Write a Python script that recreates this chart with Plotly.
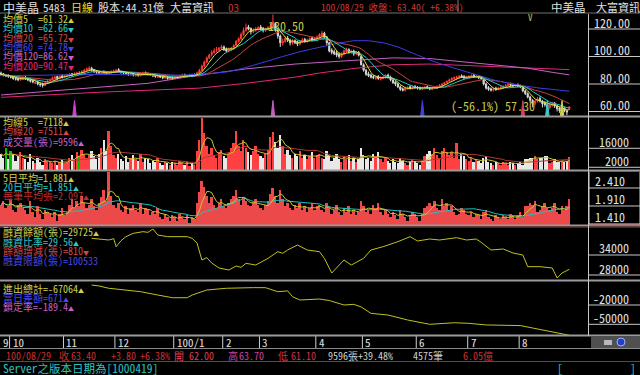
import plotly.graph_objects as go
import pandas as pd

# ---------------- data ----------------
opens = [
    88, 87.5, 86, 86.5, 85, 85.5, 84, 84, 83, 83.5,
    85, 84.5, 83, 82.5, 80.5, 81.5, 80, 80, 79, 80.5,
    82, 83, 84, 85.5, 84, 86, 85, 86, 86, 87.5,
    86.5, 87, 88.5, 88, 89, 90, 90.5, 91.5, 90.5, 89.5,
    88.5, 87.5, 89, 88, 87.5, 88, 89, 89, 90.5, 89,
    89, 88.5, 87.5, 86.5, 87.5, 86, 87.5, 86, 87, 88.5,
    87.5, 87.5, 86.5, 86.5, 85, 86, 85, 84.5, 85, 83.5,
    84.5, 84, 84.5, 85.5, 86, 86.5, 85.5, 86, 86.5, 86,
    87, 88, 90, 93, 96, 99, 101.5, 103, 104.5, 105,
    106, 107, 105.5, 104, 105, 106, 108, 111, 113, 116,
    119, 121.5, 120.5, 118, 119, 120, 121.5, 120.5, 119, 120,
    121, 122, 124, 119, 115, 110, 111, 113.5, 112, 110,
    111.5, 110.5, 109, 111, 112.5, 111, 112, 113.5, 112, 113,
    114, 115, 117, 114, 110, 104.5, 103.5, 102.5, 101.5, 100,
    102, 103.5, 105, 103, 104, 102, 103, 100, 94, 90,
    87.5, 86.5, 85.5, 84, 85.5, 83.5, 84, 85, 86.5, 85,
    83, 81.5, 80, 78, 76.5, 75.5, 76.5, 78, 77, 78.5,
    77.5, 77.5, 76, 77, 78, 77, 76, 77, 77, 78,
    79, 80, 81, 82, 83, 84, 84, 85, 86, 85.5,
    84.5, 85, 85, 86.5, 85, 85.5, 84.5, 83, 80, 77.5,
    76.5, 75.5, 77, 76, 77, 77, 78, 79, 80, 79.5,
    78.5, 79.5, 79, 77.5, 75, 73, 70.5, 68, 66, 67.5,
    69.5, 67.5, 66, 65, 63, 64.5, 66, 64, 62.5, 60.5,
    62.5, 60.5, 62.0,
]
highs = [
    89, 88, 87, 87, 86, 86, 85, 84.5, 85, 85.5,
    86, 85, 84, 83, 82, 82, 81, 81, 81.5, 83,
    84, 85.5, 86, 86, 86.5, 87, 87, 87.5, 88, 88,
    88.5, 89, 89.5, 90, 91, 92, 93, 92.5, 91, 90,
    89.5, 89.5, 90, 89, 89.5, 90, 90.5, 91, 91.5, 90,
    89.5, 89, 88.5, 88, 88.5, 87.5, 88, 87.5, 89, 89,
    88.5, 88, 87.5, 87, 86.5, 86.5, 86, 85.5, 86, 85,
    85.5, 85.5, 86.5, 86.5, 87.5, 87.5, 87, 87.5, 87.5, 88,
    89, 91, 94, 97, 100, 102, 104.5, 106, 107, 107,
    108.5, 108, 106.5, 106.5, 107, 109, 112, 114, 117.5, 121,
    124, 123, 121, 120.5, 121.5, 122, 123, 121.5, 121, 122,
    124, 130.5, 125, 120, 116, 113, 114.5, 115, 113, 112.5,
    112.5, 111.5, 112, 113.5, 113.5, 113, 114, 114.5, 114, 115.5,
    117, 118.5, 118, 115, 110.5, 106, 105, 104, 103, 103,
    105, 106.5, 106, 105, 105, 104, 104, 101, 95, 91,
    89, 87.5, 86.5, 86, 86.5, 85.5, 86, 87, 87.5, 86,
    83.5, 82, 81, 79, 77.5, 78, 78.5, 79, 79, 79,
    78.5, 78, 78, 78.5, 79, 78, 78, 78.5, 79, 80,
    80.5, 81.5, 82.5, 84, 85, 85.5, 86, 86.5, 87, 86.5,
    86, 86.5, 87, 87.5, 86.5, 86.5, 85.5, 84, 81, 78.5,
    77.5, 77.5, 78, 78, 78.5, 79, 80, 80.5, 81, 80,
    80, 80.5, 79.5, 78, 76, 74, 71.5, 69, 68.5, 70.5,
    71, 68.5, 67.5, 66.5, 66, 67, 67, 65, 63.5, 63.5,
    63, 61.5, 63.7,
]
lows = [
    86, 85.5, 85, 84.5, 84, 83, 82.5, 82, 82.5, 83,
    83, 82, 81, 80.5, 80, 79, 78, 77.5, 78.5, 80,
    81, 82.5, 83.5, 83, 83.5, 84, 84.5, 85, 85.5, 85.5,
    86, 86.5, 87.5, 87, 88, 89, 90, 89, 88, 87.5,
    87, 87, 87.5, 86.5, 87, 87.5, 88, 88.5, 88.5, 87.5,
    87, 87, 86, 86, 85.5, 85.5, 85.5, 85.5, 86.5, 87,
    86, 86, 85, 84.5, 84.5, 84.5, 83.5, 83.5, 83, 83,
    83, 83.5, 84, 85, 85, 85, 85, 85.5, 85, 85.5,
    86.5, 87.5, 89.5, 92, 95, 98, 100, 102, 103, 104,
    105, 104, 103, 103, 104, 105, 107.5, 110, 112, 115,
    118, 119, 116, 117, 118, 119, 119, 117.5, 118, 119,
    120, 121, 118, 113, 107, 108, 110, 110.5, 108, 108.5,
    109, 107.5, 108, 110, 110, 110, 111, 111, 111, 112,
    113, 114, 113, 108, 103, 101.5, 101, 99.5, 98.5, 99,
    101, 102.5, 102, 102, 100.5, 101, 100, 93.5, 89, 86,
    85, 84, 83.5, 83, 83, 82.5, 83.5, 84, 84, 82,
    80, 78.5, 77, 75, 74.5, 74.5, 76, 76, 76, 76.5,
    76, 75.5, 75.5, 76, 76.5, 75.5, 75.5, 76.5, 76.5, 77.5,
    78, 79.5, 80.5, 81.5, 82.5, 83, 83.5, 84, 84.5, 83.5,
    83.5, 84, 84.5, 84.5, 84.5, 83.5, 83, 79, 76, 75,
    74.5, 74.5, 75, 75.5, 76, 76.5, 77.5, 78.5, 78, 77.5,
    77.5, 77.5, 77, 74, 72, 69.5, 66, 63, 64.5, 66.5,
    66.5, 63, 63.5, 62, 61.5, 63.5, 62.5, 60, 59, 59.5,
    59.5, 57.3, 61.1,
]
closes = [
    87, 86.5, 86, 85.5, 85, 84, 83.5, 83, 84, 84.5,
    84, 83, 82, 81.5, 81, 80, 79.5, 79, 80.5, 82,
    83, 84.5, 85, 84, 85.5, 85, 86, 86.5, 87, 86.5,
    87.5, 88, 88.5, 89, 90, 91, 91.5, 90, 89, 88.5,
    88, 88.5, 88, 87.5, 88.5, 89, 89.5, 90, 89, 88.5,
    88, 87.5, 87, 87.5, 86.5, 87, 86, 87, 88, 87.5,
    87, 86.5, 86, 85.5, 86, 85, 84.5, 85, 84, 84.5,
    84, 85, 85.5, 86, 86.5, 85.5, 86, 86.5, 86, 87,
    88, 90, 93, 96, 99, 101, 103, 104, 105, 106,
    107, 105, 104, 105, 106, 108, 111, 113, 116, 119,
    121, 120, 118, 119, 120, 121, 120, 119, 120, 121,
    122, 125, 119, 115, 110, 111, 113, 112, 110, 111,
    110, 109, 111, 112, 111, 112, 113, 112, 113, 114,
    116, 117, 114, 110, 104, 103, 102, 101, 100, 102,
    104, 105, 103, 104, 102, 103, 101, 94, 90, 87,
    86, 85, 84.5, 85, 84, 84.5, 85, 86, 85, 83,
    81, 80, 78, 76, 75.5, 77, 77.5, 77, 78, 77.5,
    77, 76.5, 77, 77.5, 77, 76.5, 77, 77.5, 78, 79,
    80, 81, 82, 83, 84, 84.5, 85, 85.5, 85, 84.5,
    85, 85.5, 86, 85, 85.5, 84.5, 84, 80, 77, 76,
    75.5, 76.5, 76, 77, 77.5, 78, 79, 79.5, 79, 78.5,
    79, 78.5, 78, 75, 73, 70.5, 68, 66.5, 67.5, 69,
    67.5, 65.5, 65, 63.5, 65, 65.5, 64, 62, 60.5, 62.5,
    60.6, 59.6, 63.4,
]
volume_k = [
    12, 9, 16, 8, 14, 11, 7, 10, 13, 9,
    8, 6, 12, 7, 5, 9, 6, 4, 8, 7,
    6, 5, 7, 4, 6, 8, 5, 6, 9, 11,
    8, 13, 10, 15, 12, 9, 11, 14, 10, 8,
    12, 16, 22, 14, 29, 18, 11, 9, 12, 8,
    7, 10, 6, 9, 11, 8, 7, 12, 6, 9,
    8, 5, 7, 6, 9, 5, 4, 6, 5, 4,
    6, 5, 4, 7, 5, 4, 6, 3, 5, 4,
    14, 22, 38, 27, 18, 12, 16, 11, 9, 13,
    15, 10, 9, 12, 16, 20, 29, 18, 14, 22,
    16, 13, 11, 14, 18, 12, 10, 9, 12, 15,
    24, 28, 21, 16, 26, 18, 12, 15, 11, 9,
    12, 10, 14, 9, 11, 8, 10, 13, 9, 11,
    12, 9, 8, 14, 10, 7, 9, 12, 8, 6,
    10, 8, 11, 7, 9, 6, 8, 16, 11, 8,
    9, 7, 12, 10, 13, 8, 6, 9, 7, 5,
    8, 6, 5, 9, 7, 5, 4, 6, 8, 7,
    5, 4, 7, 10, 12, 14, 12, 16, 11, 9,
    14, 16, 13, 11, 13, 9, 20, 8, 12, 10,
    8, 7, 9, 6, 8, 7, 5, 9, 10, 6,
    5, 4, 6, 5, 4, 6, 5, 4, 6, 5,
    4, 5, 6, 4, 8, 8, 9, 9, 10, 8,
    9, 9, 10, 10, 5, 6, 8, 6, 6, 7,
    6, 6.8, 9.596,
]
avg_lot = [
    1.95, 2.05, 1.85, 1.9, 2.1, 1.8, 1.75, 1.95, 2.0, 1.85,
    1.8, 1.7, 2.05, 1.75, 1.6, 1.9, 1.7, 1.55, 1.8, 1.75,
    1.7, 1.6, 1.75, 1.5, 1.7, 1.85, 1.65, 1.75, 1.95, 2.1,
    1.85, 2.05, 1.9, 2.2, 2.0, 1.85, 1.95, 2.1, 1.9, 1.8,
    2.0, 2.15, 2.35, 2.05, 2.85, 2.2, 1.95, 1.85, 2.0, 1.8,
    1.75, 1.9, 1.7, 1.85, 1.95, 1.8, 1.75, 2.0, 1.7, 1.85,
    1.8, 1.65, 1.75, 1.7, 1.85, 1.6, 1.55, 1.7, 1.6, 1.5,
    1.65, 1.6, 1.5, 1.7, 1.6, 1.55, 1.65, 1.45, 1.6, 1.55,
    2.0, 2.3, 2.6, 2.45, 2.2, 2.0, 2.15, 1.95, 1.85, 2.0,
    2.1, 1.9, 1.85, 2.0, 2.1, 2.2, 2.35, 2.1, 1.95, 2.15,
    2.05, 1.95, 1.9, 2.0, 2.1, 1.95, 1.85, 1.8, 1.95, 2.05,
    2.25, 2.4, 2.2, 2.0, 2.35, 2.1, 1.9, 2.0, 1.85, 1.8,
    1.95, 1.85, 2.0, 1.8, 1.9, 1.75, 1.85, 2.0, 1.8, 1.9,
    1.95, 1.8, 1.75, 2.0, 1.85, 1.7, 1.8, 1.95, 1.75, 1.65,
    1.85, 1.75, 1.9, 1.7, 1.8, 1.65, 1.75, 2.05, 1.9, 1.75,
    1.8, 1.7, 1.95, 1.85, 2.0, 1.75, 1.65, 1.8, 1.7, 1.6,
    1.75, 1.65, 1.55, 1.8, 1.7, 1.6, 1.5, 1.65, 1.75, 1.7,
    1.6, 1.5, 1.7, 1.85, 1.9, 2.0, 1.9, 2.05, 1.85, 1.8,
    2.1, 1.9, 2.0, 1.8, 1.9, 1.75, 1.65, 1.7, 1.85, 1.8,
    1.7, 1.65, 1.75, 1.6, 1.7, 1.65, 1.55, 1.75, 1.8, 1.6,
    1.55, 1.5, 1.65, 1.6, 1.55, 1.65, 1.6, 1.55, 1.7, 1.6,
    1.55, 1.65, 1.75, 1.6, 1.9, 1.9, 2.0, 1.95, 2.05, 1.75,
    1.8, 1.9, 2.0, 1.85, 1.8, 1.85, 2.0, 1.75, 1.7, 1.9,
    1.8, 1.9, 2.097,
]
ma60_days = [0, 20, 40, 60, 75, 85, 93, 100, 107, 115, 122, 130, 137, 144,
             150, 156, 162, 170, 178, 186, 194, 202, 210, 220, 232]
ma60_vals = [86, 86.5, 87, 86.5, 86.5, 87.5, 89, 92, 96, 100, 103.5, 107, 109.5,
             111.5, 111.5, 110, 107, 101, 95.5, 91, 86.5, 82.5, 79.5, 77, 74.78]
ma120_days = [0, 20, 40, 60, 79, 100, 120, 140, 160, 175, 190, 205, 215, 225, 232]
ma120_vals = [72, 75, 77.5, 80.5, 86, 91, 94.5, 97, 99, 98.5, 96, 93.5, 91.5, 88.5, 86.62]
ma200_days = [0, 40, 81, 100, 120, 130, 145, 160, 175, 190, 210, 232]
ma200_vals = [70.3, 74, 77, 80.5, 85, 88, 91.5, 94, 94.5, 93.5, 92, 90.47]
margin_days = [37, 40, 44, 46, 47, 49, 51, 54, 58, 60, 62, 64, 68, 76, 78, 80, 81,
               82, 84, 86, 89, 93, 96, 98, 100, 104, 109, 113, 115, 117, 121, 125,
               130, 132, 135, 138, 140, 143, 148, 151, 156, 162, 167, 170, 175,
               179, 186, 190, 194, 196, 200, 205, 209, 213, 215, 220, 225, 227,
               229, 232]
margin_vals = [39000, 38800, 38500, 38900, 36500, 38300, 39500, 40500, 41000,
               40800, 41800, 40000, 39500, 39500, 39000, 37600, 35000, 32500,
               33200, 31600, 30100, 29500, 30700, 30300, 31500, 31000, 33000,
               35000, 34500, 35500, 37000, 35500, 35000, 33000, 28600, 31100,
               32500, 31000, 33000, 35500, 36500, 38000, 39500, 38200, 38800,
               38500, 39200, 38500, 38800, 37800, 35500, 35800, 34600, 34000,
               30500, 30500, 30100, 27100, 28600, 29725]
net_days = [37, 40, 44, 50, 57, 64, 70, 76, 78, 84, 92, 103, 108, 113, 117, 119,
            122, 130, 134, 140, 144, 147, 151, 158, 166, 175, 185, 191, 198, 212,
            219, 225, 232]
net_vals = [11000, 9600, 6000, 3300, 700, -4500, -8700, -8700, -4500, 3300, 6000,
            7000, 6900, 700, 2000, -7100, -12200, -10700, -13000, -20000, -19000,
            -23000, -33000, -35600, -43300, -50000, -47600, -48500, -51000,
            -52000, -57300, -62400, -67064]
month_days = [4, 26, 47, 71, 91, 106, 129, 148, 170, 191, 212]
month_labels = ["10", "11", "12", "100/1", "2", "3", "4", "5", "6", "7", "8"]
event_days = [30, 111, 172, 213, 223, 229]
price_ticks = [120, 100, 80, 60]
vol_ticks = [16000, 2000]
lot_ticks = [2.41, 1.91, 1.41]
margin_ticks = [34000, 28000]
net_ticks = [-20000, -50000]

# ---------------- derived ----------------
days = list(range(len(closes)))
cs = pd.Series(closes)
ma5 = cs.rolling(5, min_periods=1).mean()
ma10 = cs.rolling(10, min_periods=1).mean()
ma20 = cs.rolling(20, min_periods=1).mean()
volume = [v * 1000 for v in volume_k]
vs = pd.Series(volume)
vma5 = vs.rolling(5, min_periods=1).mean()
vma20 = vs.rolling(20, min_periods=1).mean()
ls = pd.Series(avg_lot)
lma5 = ls.rolling(5, min_periods=1).mean()
lma20 = ls.rolling(20, min_periods=1).mean()

W, H = 640, 375
FONT = "Noto Sans Mono CJK TC, Noto Sans CJK TC, monospace"
YEL, CYN, RED, BLU, VIO, CRM = '#d0d050', '#30c8c8', '#d04848', '#4848e8', '#c860c8', '#e02878'
UP = '<span style="font-size:6px">▲</span>'
DN = '<span style="font-size:6px">▼</span>'
NB = '\u00a0'


def pdom(top, bottom):
    return [1 - bottom / H, 1 - top / H]


fig = go.Figure()
fig.add_trace(go.Candlestick(
    x=days, open=opens, high=highs, low=lows, close=closes,
    increasing=dict(line=dict(color='#ff3c3c', width=1), fillcolor='#ff3c3c'),
    decreasing=dict(line=dict(color='#d8d8d8', width=1), fillcolor='#d8d8d8'),
    whiskerwidth=0, xaxis='x', yaxis='y', hoverinfo='skip', showlegend=False))
for xs, ys, col in [(days, ma20, '#c84040'), (ma200_days, ma200_vals, CRM),
                    (ma120_days, ma120_vals, VIO), (ma60_days, ma60_vals, '#3c3ce0'),
                    (days, ma10, '#20c8c8'), (days, ma5, '#e0e030')]:
    fig.add_trace(go.Scatter(x=xs, y=ys, mode='lines', line=dict(color=col, width=1),
                             xaxis='x', yaxis='y', hoverinfo='skip', showlegend=False))

# event spikes at bottom of price panel
ev_cols = ['#d040d0', '#c060c0', '#4040e0', '#d04060', '#40c8c8', '#d0d050']
pbot = 56.73
for d, col in zip(event_days, ev_cols):
    fig.add_trace(go.Scatter(x=[d - 0.7, d, d + 0.7, d - 0.7], y=[pbot, 68, pbot, pbot],
                             mode='lines', fill='toself', fillcolor=col,
                             line=dict(color=col, width=1), xaxis='x', yaxis='y',
                             hoverinfo='skip', showlegend=False))

bar_cols = ['#ff4040' if c > o else ('#e8e8e8' if c < o else '#00c000')
            for o, c in zip(opens, closes)]
fig.add_trace(go.Bar(x=days, y=volume, width=0.7, marker=dict(color=bar_cols, line=dict(width=0)),
                     xaxis='x', yaxis='y2', hoverinfo='skip', showlegend=False))
fig.add_trace(go.Scatter(x=days, y=vma20, mode='lines', line=dict(color='#b03838', width=1),
                         xaxis='x', yaxis='y2', hoverinfo='skip', showlegend=False))
fig.add_trace(go.Scatter(x=days, y=vma5, mode='lines', line=dict(color='#c8c830', width=1),
                         xaxis='x', yaxis='y2', hoverinfo='skip', showlegend=False))

fig.add_trace(go.Bar(x=days, y=avg_lot, width=0.8, base=0,
                     marker=dict(color='#ec4a4a', line=dict(width=0)),
                     xaxis='x', yaxis='y3', hoverinfo='skip', showlegend=False))
fig.add_trace(go.Scatter(x=days, y=lma20, mode='lines', line=dict(color='#20c0c0', width=1),
                         xaxis='x', yaxis='y3', hoverinfo='skip', showlegend=False))
fig.add_trace(go.Scatter(x=days, y=lma5, mode='lines', line=dict(color='#c8c830', width=1),
                         xaxis='x', yaxis='y3', hoverinfo='skip', showlegend=False))

fig.add_trace(go.Scatter(x=margin_days, y=margin_vals, mode='lines',
                         line=dict(color='#c0c020', width=1),
                         xaxis='x', yaxis='y4', hoverinfo='skip', showlegend=False))
fig.add_trace(go.Scatter(x=net_days, y=net_vals, mode='lines',
                         line=dict(color='#c0c020', width=1),
                         xaxis='x', yaxis='y5', hoverinfo='skip', showlegend=False))

# month separators
mx, my = [], []
for d in month_days:
    mx += [d - 0.5, d - 0.5, None]
    my += [0, 1, None]
fig.add_trace(go.Scatter(x=mx, y=my, mode='lines', line=dict(color='#d0d0d0', width=1),
                         xaxis='x', yaxis='y6', hoverinfo='skip', showlegend=False))

ann = []


def T(x, y, s, color, size=10, xanchor='left'):
    ann.append(dict(x=x / W, y=1 - y / H, xref='paper', yref='paper', text=s, showarrow=False,
                    xanchor=xanchor, yanchor='middle', borderpad=0,
                    font=dict(family=FONT, size=size, color=color)))


# header
T(2, 7, "中美晶", '#e0e0e0', 12)
T(42, 7, "5483", '#e0e0e0', 11)
T(70, 7, "日線", '#e8e800', 11)
T(97, 7, "股本:44.31億", '#e0e0e0', 11)
T(169, 7, "大富資訊", '#e0e0e0', 11)
T(227, 7, "03", '#d03030', 11)
T(320, 7, "100/08/29 收盤:" + NB + "63.40(" + NB + "+6.38%)", '#c83c3c', 9.5)
T(550, 7, "中美晶", '#e0e0e0', 11.5)
T(595, 7, "大富資訊", '#e0e0e0', 11)

# price legend
T(2, 19, "均價5" + NB * 2 + "=61.32" + UP, YEL)
T(2, 28, "均價10" + NB + "=62.66" + DN, CYN)
T(2, 37, "均價20" + NB + "=65.72" + DN, RED)
T(2, 46, "均價60" + NB + "=74.78" + DN, BLU)
T(2, 56, "均價120=86.62" + DN, VIO)
T(2, 65, "均價200=90.47" + DN, CRM)
lo, hi = min(lows), max(highs)
T(450, 106, f"({(lo / hi - 1) * 100:.1f}%) {lo:.2f}", '#c8c850', 12)
T(530, 17, "V", '#c8c850', 9, 'center')
ann.append(dict(x=highs.index(hi), y=hi, xref='x', yref='y', text=f"{hi:.2f}", showarrow=False,
                xanchor='left', yanchor='top', xshift=-7,
                font=dict(family=FONT, size=12, color='#c8c850')))

# volume legend
T(2, 122, "均線5" + NB * 2 + "=7118" + UP, YEL)
T(2, 131, "均線20" + NB + "=7511" + UP, RED)
T(2, 141, "成交量(張)=9596" + UP, VIO)
# avg lot legend
T(2, 177, "5日平均=1.881" + UP, YEL)
T(2, 186, "20日平均=1.851" + UP, CYN)
T(2, 196, "每筆平均張=2.097" + UP, '#b83030')
# margin legend
T(2, 231, "融資餘額(張)=29725" + UP, YEL)
T(2, 241, "融資比率=29.56" + UP, CYN)
T(2, 250, "餘額增減(張)=810" + DN, RED)
T(2, 260, "融資限額(張)=100533", BLU)
# net legend
T(2, 288, "進出總計=-67064" + UP, YEL)
T(2, 297, "當日差額=671" + UP, BLU)
T(2, 306, "鎖定率=-189.4" + UP, VIO)

# month labels
T(2, 342, "9", '#e0e0e0', 11)
for d, lab in zip(month_days, month_labels):
    ann.append(dict(x=d - 0.5, y=1 - 342 / H, xref='x', yref='paper', text=lab, showarrow=False,
                    xanchor='left', yanchor='middle', xshift=1,
                    font=dict(family=FONT, size=11, color='#e0e0e0')))

# status row
for x, s, c in [(5, "100/08/29", '#c83030'), (58, "收", '#c83030'), (70, "63.40", '#c83030'),
                (110, "+3.80", '#c83030'), (139, "+6.38%", '#c83030'), (173, "開", '#e03c50'),
                (188, "62.00", '#e03c50'), (227, "高", '#d040a0'), (238, "63.70", '#d040a0'),
                (277, "低", '#d03048'), (290, "61.10", '#d03048'),
                (327, "9596張+39.48%", '#d0d0d0'), (412, "4575筆", '#d0d0d0'),
                (462, "6.05億", '#d03030')]:
    T(x, 355, s, c, 10)
T(2, 367.5, "Server之版本日期為[1000419]", '#30c0c0', 11.5)
T(556, 367.5, "[", '#30c0c0', 11.5)
T(629, 367.5, "]", '#30c0c0', 11.5)

shapes = []


def HL(y, color, width=1, x0=0, x1=W):
    shapes.append(dict(type='line', xref='paper', yref='paper', x0=x0 / W, x1=x1 / W,
                       y0=1 - y / H, y1=1 - y / H, line=dict(color=color, width=width)))


HL(13, '#707070')
for y in [116.5, 170.5, 225.5, 280.5, 335.5]:
    HL(y, '#9a9a9a', 2)
HL(227.2, '#902828', 1)
HL(348.5, '#8a8a8a', 1)
HL(361.5, '#505050', 1)
shapes.append(dict(type='line', xref='paper', yref='paper', x0=588.5 / W, x1=588.5 / W,
                   y0=1 - 336 / H, y1=1 - 14 / H, line=dict(color='#c8c8c8', width=1)))
shapes.append(dict(type='line', xref='paper', yref='paper', x0=458 / W, x1=458 / W,
                   y0=1 - 12 / H, y1=1, line=dict(color='#808080', width=1)))
shapes.append(dict(type='rect', xref='paper', yref='paper', x0=589.5 / W, x1=639.5 / W,
                   y0=1 - 225 / H, y1=1 - 171.5 / H, line=dict(color='#c84040', width=1)))
# small widget at bottom right of the date row
shapes.append(dict(type='rect', xref='paper', yref='paper', x0=591 / W, x1=640 / W,
                   y0=1 - 348 / H, y1=1 - 336.5 / H, line=dict(width=0), fillcolor='#505050'))
shapes.append(dict(type='rect', xref='paper', yref='paper', x0=604 / W, x1=612 / W,
                   y0=1 - 345 / H, y1=1 - 340 / H, line=dict(width=0), fillcolor='#b8b8c0'))
shapes.append(dict(type='circle', xref='paper', yref='paper', x0=617 / W, x1=625 / W,
                   y0=1 - 346 / H, y1=1 - 338 / H, line=dict(color='#a0b0ff', width=1),
                   fillcolor='#2040c8'))

# right-hand scales
for ax, ticks, fmt, xa, anc in [('y', price_ticks, '{:.2f}', 632, 'right'),
                                ('y2', vol_ticks, '{:d}', 631, 'right'),
                                ('y3', lot_ticks, '{:.3f}', 593, 'left'),
                                ('y4', margin_ticks, '{:d}', 631, 'right'),
                                ('y5', net_ticks, '{:d}', 631, 'right')]:
    for t in ticks:
        shapes.append(dict(type='line', xref='paper', yref=ax, x0=589 / W, x1=1, y0=t, y1=t,
                           line=dict(color='#c8c8c8', width=1)))
        ann.append(dict(x=xa / W, y=t, xref='paper', yref=ax, text=fmt.format(t),
                        showarrow=False, xanchor=anc, yanchor='middle', yshift=7,
                        font=dict(family=FONT, size=12, color='#e0e0e0')))

hid = dict(visible=False, showgrid=False, zeroline=False, fixedrange=True, anchor='x')
fig.update_layout(
    width=W, height=H, margin=dict(l=0, r=0, t=0, b=0),
    paper_bgcolor='#000000', plot_bgcolor='#000000',
    showlegend=False, barmode='overlay', bargap=0,
    xaxis=dict(domain=[0, 588 / W], range=[-0.41, 239.6], visible=False, showgrid=False,
               zeroline=False, fixedrange=True, rangeslider=dict(visible=False), anchor='y'),
    yaxis=dict(domain=pdom(14, 116), range=[56.73, 130.91], **hid),
    yaxis2=dict(domain=pdom(117, 170), range=[0, 39060], **hid),
    yaxis3=dict(domain=pdom(171, 226), range=[1.354, 2.882], **hid),
    yaxis4=dict(domain=pdom(227, 280), range=[26500, 42400], **hid),
    yaxis5=dict(domain=pdom(281, 336), range=[-68170, 17300], **hid),
    yaxis6=dict(domain=pdom(336, 348), range=[0, 1], **hid),
    annotations=ann, shapes=shapes,
)
fig.write_html("out.html", config={'displayModeBar': False},
               post_script="document.body.style.margin='0';document.body.style.background='#000';")
